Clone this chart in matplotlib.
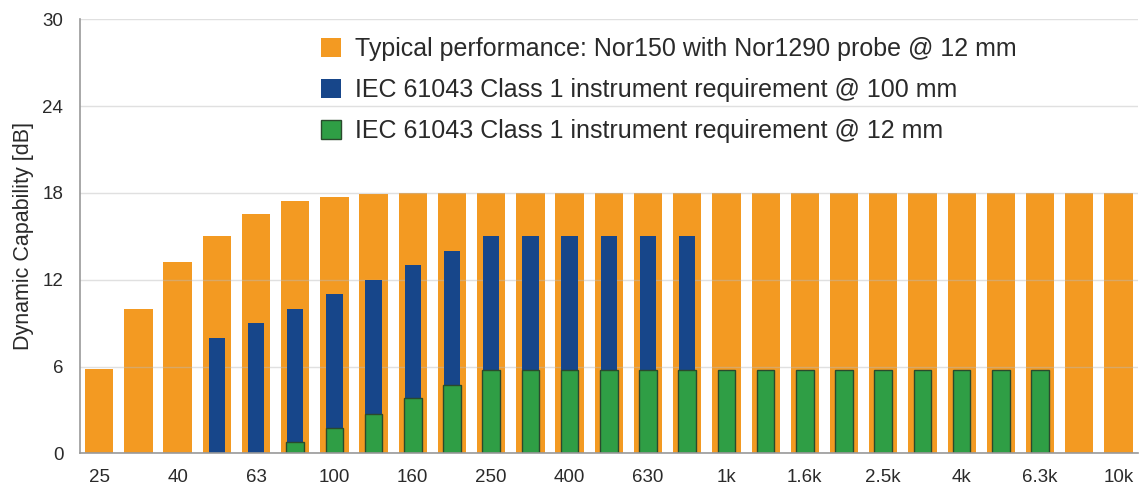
import matplotlib.pyplot as plt
import numpy as np

# 1/3 octave bands 25 Hz .. 10 kHz
bands = ['25', '31.5', '40', '50', '63', '80', '100', '125', '160', '200',
         '250', '315', '400', '500', '630', '800', '1k', '1.25k', '1.6k', '2k',
         '2.5k', '3.15k', '4k', '5k', '6.3k', '8k', '10k']

nor150 = [5.85, 10.0, 13.25, 15.0, 16.55, 17.45, 17.7, 17.9, 18, 18,
          18, 18, 18, 18, 18, 18, 18, 18, 18, 18,
          18, 18, 18, 18, 18, 18, 18]

# None = no requirement at that band
iec_100mm = [None, None, None, 8.0, 9.0, 10.0, 11.0, 12.0, 13.0, 14.0,
             15, 15, 15, 15, 15, 15, None, None, None, None,
             None, None, None, None, None, None, None]

iec_12mm = [None, None, None, None, None, 0.8, 1.75, 2.75, 3.8, 4.75,
            5.75, 5.75, 5.75, 5.75, 5.75, 5.75, 5.75, 5.75, 5.75, 5.75,
            5.75, 5.75, 5.75, 5.75, 5.75, None, None]

labels = ['Typical performance: Nor150 with Nor1290 probe @ 12 mm',
          'IEC 61043 Class 1 instrument requirement @ 100 mm',
          'IEC 61043 Class 1 instrument requirement @ 12 mm']

orange = '#F39A22'
blue = '#17468A'
green = '#2F9E45'
textc = '#2A2A2A'

plt.rcParams['font.family'] = ['Liberation Sans', 'DejaVu Sans']

fig = plt.figure(figsize=(11.41, 5.01), dpi=100)
ax = fig.add_axes([0.0701, 0.0952, 0.9273, 0.8663])

x = np.arange(len(bands))

def split(vals):
    xs = [i for i, v in enumerate(vals) if v is not None]
    return xs, [vals[i] for i in xs]

b1 = ax.bar(x, nor150, width=0.72, color=orange, zorder=2, label=labels[0])
xs, ys = split(iec_100mm)
b2 = ax.bar(xs, ys, width=0.42, color=blue, zorder=3, label=labels[1])
xs, ys = split(iec_12mm)
b3 = ax.bar(xs, ys, width=0.45, color=green, edgecolor='#2A4A2C',
            linewidth=1.0, zorder=4, label=labels[2])

ax.set_ylim(0, 30)
ax.set_xlim(-0.49, 26.5)
ax.set_yticks([0, 6, 12, 18, 24, 30])
ax.set_xticks(x[::2])
ax.set_xticklabels(bands[::2])
ax.tick_params(length=0, labelsize=13.5, labelcolor=textc)
ax.tick_params(axis='x', pad=11)
ax.tick_params(axis='y', pad=12)

ax.grid(axis='y', color='#BBBBBB', alpha=0.45, linewidth=1.0, zorder=5)
ax.set_axisbelow(False)

for s in ['top', 'right']:
    ax.spines[s].set_visible(False)
for s in ['left', 'bottom']:
    ax.spines[s].set_color('#999999')
    ax.spines[s].set_linewidth(1.2)
    ax.spines[s].set_zorder(6)

ax.set_ylabel('Dynamic Capability [dB]', fontsize=15.5, color=textc,
              labelpad=6)

leg = ax.legend(handles=[b1, b2, b3], loc='upper left',
                bbox_to_anchor=(0.2164, 0.9885), frameon=False, borderpad=0,
                fontsize=18, handlelength=0.8, handleheight=0.8,
                handletextpad=0.55, labelspacing=0.68)
for t in leg.get_texts():
    t.set_color(textc)

fig.savefig('out.png', dpi=100)
